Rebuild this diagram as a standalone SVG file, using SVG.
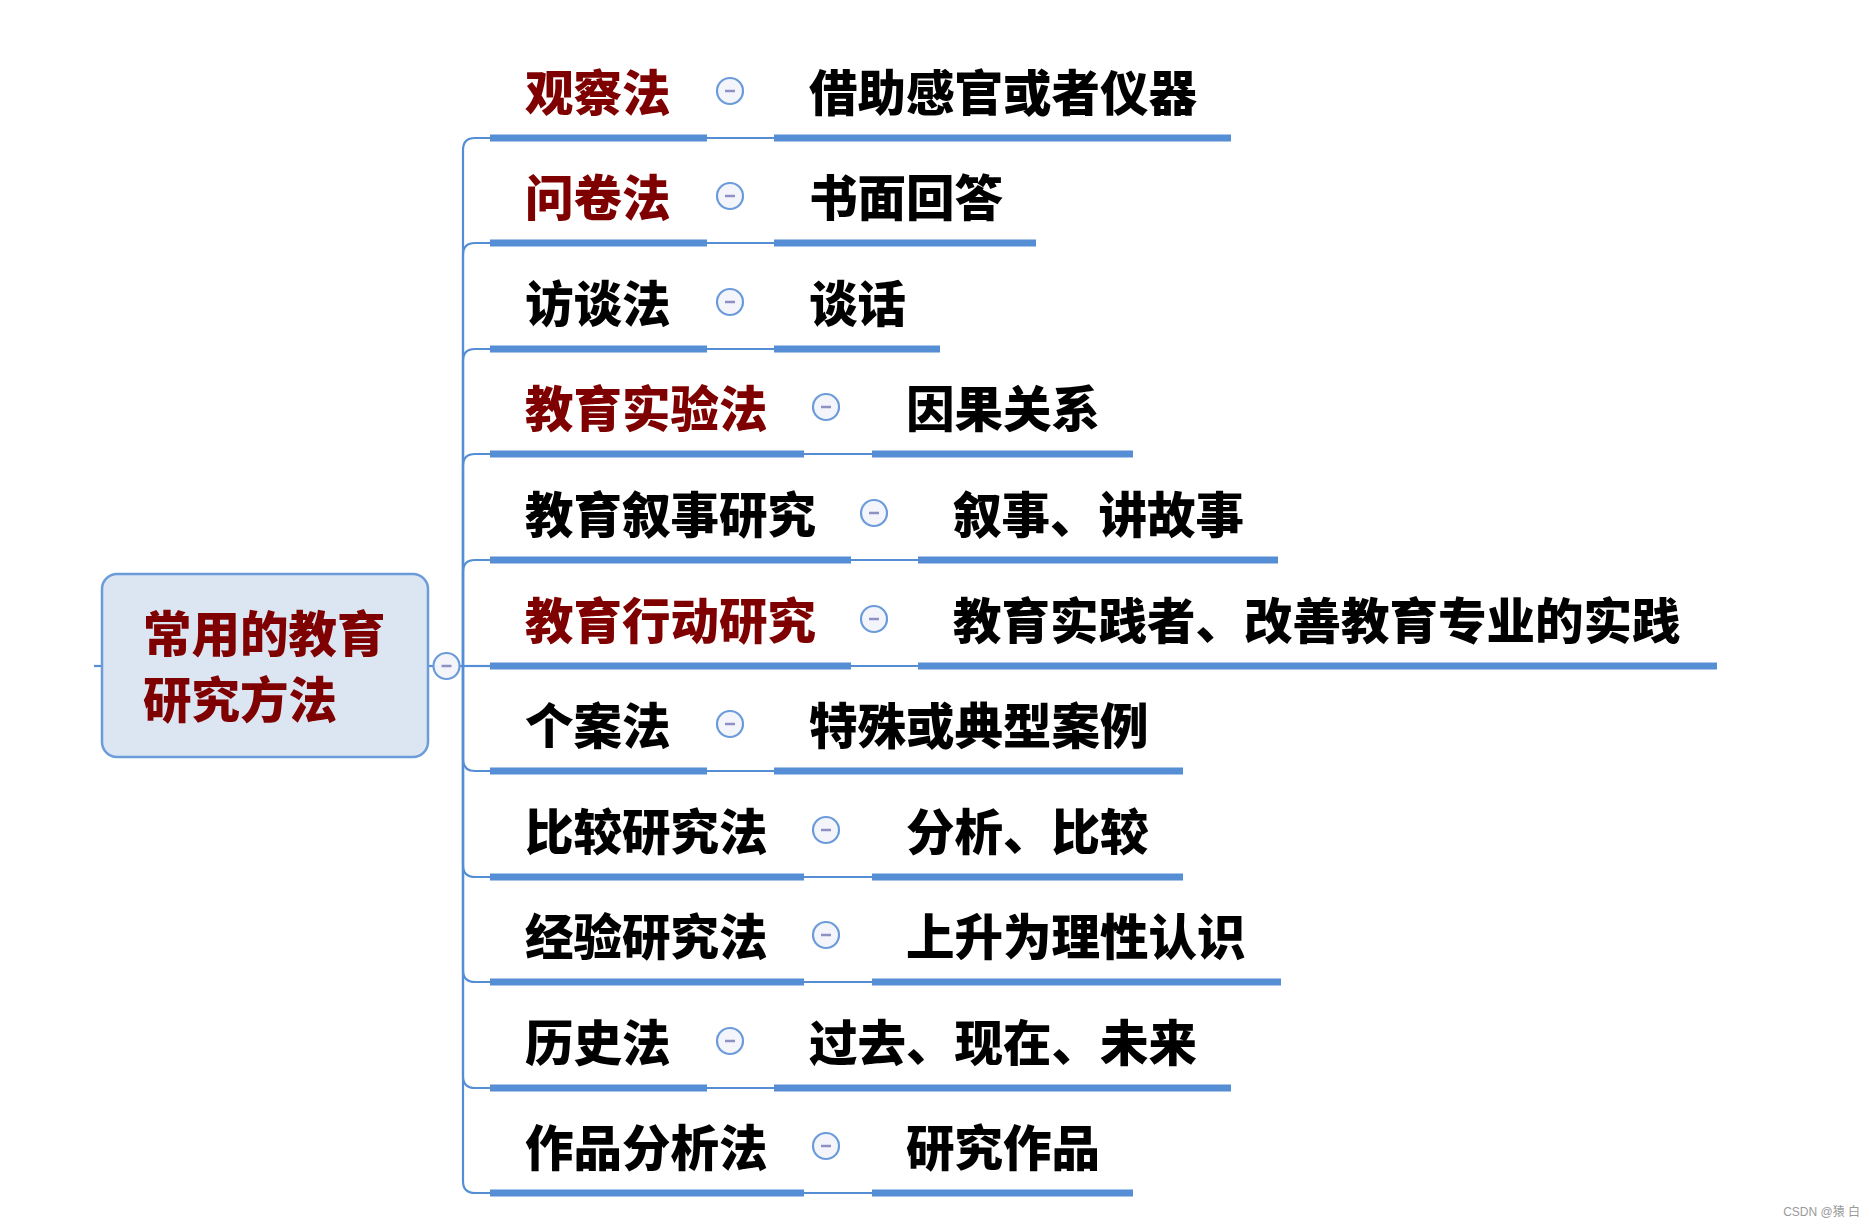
<svg xmlns="http://www.w3.org/2000/svg" width="1870" height="1225" viewBox="0 0 1870 1225">
<defs>
<style>
.t{font-family:"Noto Sans CJK SC","Liberation Sans",sans-serif;font-weight:900;font-size:48.5px;fill:#000}
.r{fill:#7f0000}
.ul{stroke:#558ed5;stroke-width:7;fill:none}
.cn{stroke:#558ed5;stroke-width:2.2;fill:none}
.cb{fill:#f3f5fb;stroke:#6c9bd9;stroke-width:2.2}
.mn{stroke:#8d92c4;stroke-width:2.5}
.wm{font-family:"Liberation Sans","Noto Sans CJK SC",sans-serif;font-size:12px;fill:#9a9a9a}
</style>
<g id="tog">
<circle class="cb" cx="0" cy="0" r="13"/>
<line class="mn" x1="-5" y1="0" x2="5" y2="0"/>
</g>
</defs>
<rect width="1870" height="1225" fill="#fff"/>
<g id="connectors">
<line class="cn" x1="94" y1="666" x2="102" y2="666"/>
<line class="cn" x1="427" y1="666" x2="434" y2="666"/>
<line class="cn" x1="459" y1="666" x2="490" y2="666"/>
<path class="cn" d="M463 666 V150 Q463 138 475 138 H490"/>
<path class="cn" d="M463 666 V255 Q463 243 475 243 H490"/>
<path class="cn" d="M463 666 V361 Q463 349 475 349 H490"/>
<path class="cn" d="M463 666 V466 Q463 454 475 454 H490"/>
<path class="cn" d="M463 666 V572 Q463 560 475 560 H490"/>
<path class="cn" d="M463 666 V759 Q463 771 475 771 H490"/>
<path class="cn" d="M463 666 V865 Q463 877 475 877 H490"/>
<path class="cn" d="M463 666 V970 Q463 982 475 982 H490"/>
<path class="cn" d="M463 666 V1076 Q463 1088 475 1088 H490"/>
<path class="cn" d="M463 666 V1181 Q463 1193 475 1193 H490"/>
<line class="cn" x1="707" y1="138" x2="774" y2="138"/>
<line class="cn" x1="707" y1="243" x2="774" y2="243"/>
<line class="cn" x1="707" y1="349" x2="774" y2="349"/>
<line class="cn" x1="804" y1="454" x2="872" y2="454"/>
<line class="cn" x1="851" y1="560" x2="918" y2="560"/>
<line class="cn" x1="851" y1="666" x2="918" y2="666"/>
<line class="cn" x1="707" y1="771" x2="774" y2="771"/>
<line class="cn" x1="804" y1="877" x2="872" y2="877"/>
<line class="cn" x1="804" y1="982" x2="872" y2="982"/>
<line class="cn" x1="707" y1="1088" x2="774" y2="1088"/>
<line class="cn" x1="804" y1="1193" x2="872" y2="1193"/>
</g>
<g id="root">
<rect x="102" y="574" width="326" height="183" rx="15" fill="#dce6f2" stroke="#6c9bd9" stroke-width="2.5"/>
<text class="t r" x="143" y="652">常用的教育</text>
<text class="t r" x="143" y="718">研究方法</text>
<use href="#tog" x="446.5" y="666"/>
</g>
<g id="n0"><text class="t r" x="525" y="111">观察法</text><line class="ul" x1="490" y1="138" x2="707" y2="138"/><use href="#tog" x="730" y="91"/></g>
<g id="m0"><text class="t" x="809" y="111">借助感官或者仪器</text><line class="ul" x1="774" y1="138" x2="1231" y2="138"/></g>
<g id="n1"><text class="t r" x="525" y="216">问卷法</text><line class="ul" x1="490" y1="243" x2="707" y2="243"/><use href="#tog" x="730" y="196"/></g>
<g id="m1"><text class="t" x="809" y="216">书面回答</text><line class="ul" x1="774" y1="243" x2="1036" y2="243"/></g>
<g id="n2"><text class="t" x="525" y="322">访谈法</text><line class="ul" x1="490" y1="349" x2="707" y2="349"/><use href="#tog" x="730" y="302"/></g>
<g id="m2"><text class="t" x="809" y="322">谈话</text><line class="ul" x1="774" y1="349" x2="940" y2="349"/></g>
<g id="n3"><text class="t r" x="525" y="427">教育实验法</text><line class="ul" x1="490" y1="454" x2="804" y2="454"/><use href="#tog" x="826" y="407"/></g>
<g id="m3"><text class="t" x="906" y="427">因果关系</text><line class="ul" x1="872" y1="454" x2="1133" y2="454"/></g>
<g id="n4"><text class="t" x="525" y="533">教育叙事研究</text><line class="ul" x1="490" y1="560" x2="851" y2="560"/><use href="#tog" x="874" y="513"/></g>
<g id="m4"><text class="t" x="953" y="533">叙事、讲故事</text><line class="ul" x1="918" y1="560" x2="1278" y2="560"/></g>
<g id="n5"><text class="t r" x="525" y="639">教育行动研究</text><line class="ul" x1="490" y1="666" x2="851" y2="666"/><use href="#tog" x="874" y="619"/></g>
<g id="m5"><text class="t" x="953" y="639">教育实践者、改善教育专业的实践</text><line class="ul" x1="918" y1="666" x2="1717" y2="666"/></g>
<g id="n6"><text class="t" x="525" y="744">个案法</text><line class="ul" x1="490" y1="771" x2="707" y2="771"/><use href="#tog" x="730" y="724"/></g>
<g id="m6"><text class="t" x="809" y="744">特殊或典型案例</text><line class="ul" x1="774" y1="771" x2="1183" y2="771"/></g>
<g id="n7"><text class="t" x="525" y="850">比较研究法</text><line class="ul" x1="490" y1="877" x2="804" y2="877"/><use href="#tog" x="826" y="830"/></g>
<g id="m7"><text class="t" x="906" y="850">分析、比较</text><line class="ul" x1="872" y1="877" x2="1183" y2="877"/></g>
<g id="n8"><text class="t" x="525" y="955">经验研究法</text><line class="ul" x1="490" y1="982" x2="804" y2="982"/><use href="#tog" x="826" y="935"/></g>
<g id="m8"><text class="t" x="906" y="955">上升为理性认识</text><line class="ul" x1="872" y1="982" x2="1281" y2="982"/></g>
<g id="n9"><text class="t" x="525" y="1061">历史法</text><line class="ul" x1="490" y1="1088" x2="707" y2="1088"/><use href="#tog" x="730" y="1041"/></g>
<g id="m9"><text class="t" x="809" y="1061">过去、现在、未来</text><line class="ul" x1="774" y1="1088" x2="1231" y2="1088"/></g>
<g id="n10"><text class="t" x="525" y="1166">作品分析法</text><line class="ul" x1="490" y1="1193" x2="804" y2="1193"/><use href="#tog" x="826" y="1146"/></g>
<g id="m10"><text class="t" x="906" y="1166">研究作品</text><line class="ul" x1="872" y1="1193" x2="1133" y2="1193"/></g>
<text class="wm" x="1860" y="1216" text-anchor="end">CSDN @猿 白</text>
</svg>
